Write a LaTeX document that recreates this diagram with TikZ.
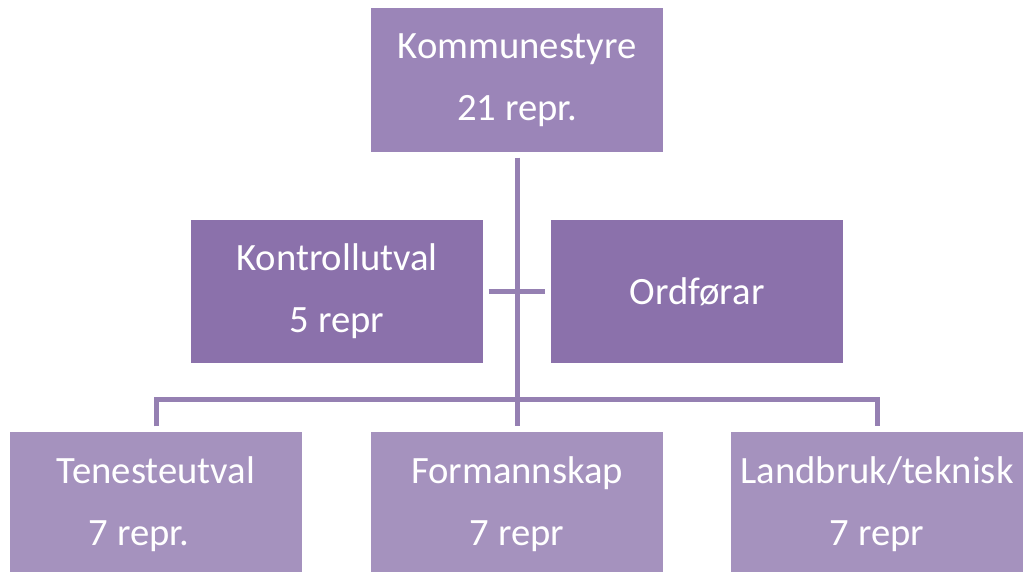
\documentclass[tikz,border=0pt]{standalone}
\usepackage{fontspec}
\setmainfont{Carlito}
\usetikzlibrary{arrows,positioning}
\definecolor{toppfarge}{HTML}{9B85B8}
\definecolor{midtfarge}{HTML}{8B71AB}
\definecolor{botnfarge}{HTML}{A592BE}
\definecolor{linjefarge}{HTML}{9580B2}
\tikzset{boks/.style={rectangle,minimum width=2.92cm,minimum height=1.44cm,inner sep=0pt,text=white,align=center,font=\fontsize{11}{17.6}\selectfont},
linje/.style={draw=linjefarge,line width=0.05cm,shorten <=0.05cm,shorten >=0.05cm}}

\begin{document}
\begin{tikzpicture}
\useasboundingbox (0,0) rectangle (10.27,-5.71);
\node at (5.17,-0.80)[boks,fill=toppfarge](kommune){Kommunestyre\\21 repr.};
\node at (3.37,-2.915)[boks,fill=midtfarge,minimum height=1.43cm](kontroll){Kontrollutval\\5 repr};
\node at (6.97,-2.915)[boks,fill=midtfarge,minimum height=1.43cm](ordforar){Ordførar};
\node at (1.56,-5.04)[boks,fill=botnfarge](teneste){Tenesteutval\\7 repr.\hspace*{0.34cm}};
\node at (5.17,-5.04)[boks,fill=botnfarge](formann){Formannskap\\7 repr};
\node at (8.77,-5.04)[boks,fill=botnfarge](landbruk){Landbruk/teknisk\\7 repr};
\coordinate (bar) at (5.17,-3.995);
\draw[linje] (kommune) -- (formann);
\draw[linje] (kontroll) -- (ordforar);
\draw[linje] (teneste) |- (bar) -| (landbruk);
\end{tikzpicture}
\end{document}
